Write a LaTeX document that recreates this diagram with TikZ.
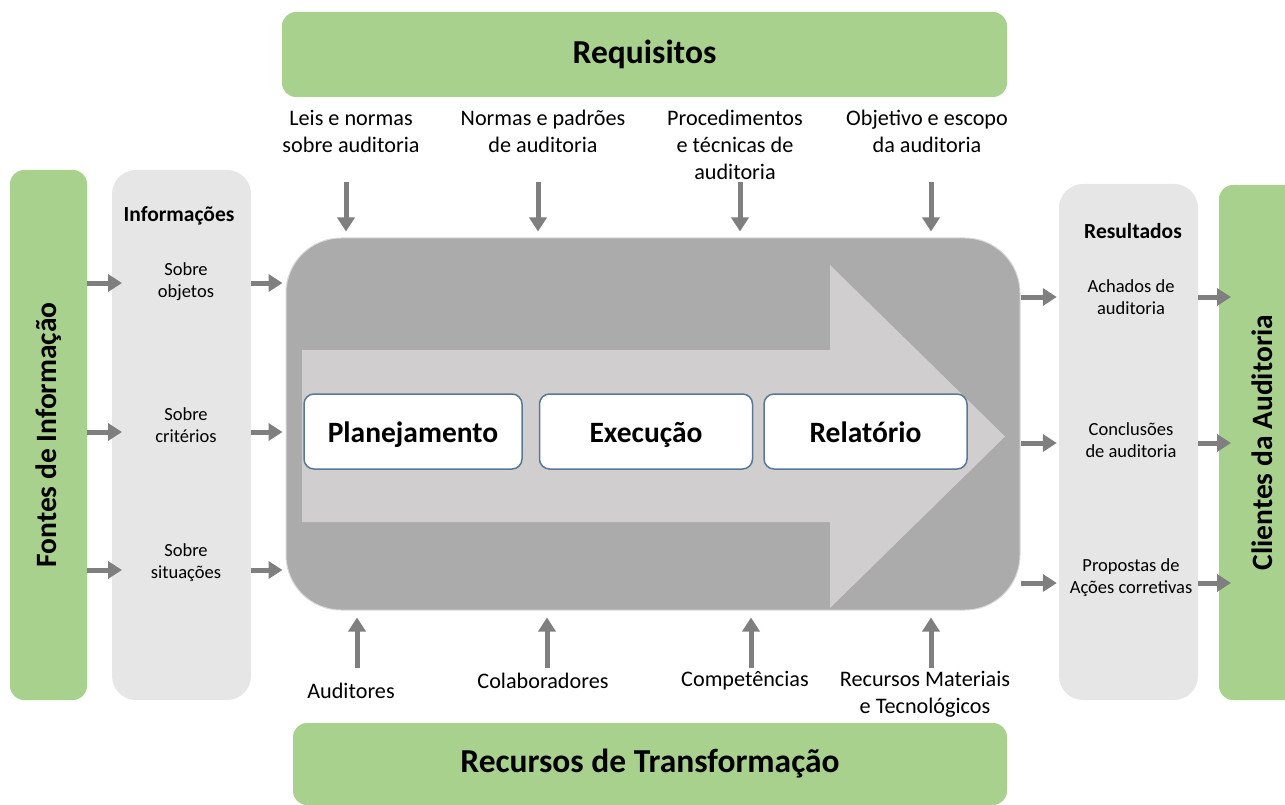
\documentclass[tikz,border=0pt]{standalone}
\usepackage{fontspec}
\setmainfont{Carlito}
\usetikzlibrary{arrows.meta,positioning}

\definecolor{verde}{HTML}{A9D18E}
\definecolor{cinzaclaro}{HTML}{E7E6E6}
\definecolor{cinza}{HTML}{ABABAB}
\definecolor{seta}{HTML}{D0CECE}
\definecolor{flecha}{HTML}{7F7F7F}
\definecolor{azul}{HTML}{5A7896}

\tikzset{
	faixa/.style={fill=verde, rounded corners=14pt, inner sep=0pt, font=\fontsize{33.5}{38}\selectfont\bfseries},
	lateral/.style={faixa, rotate=90, font=\fontsize{29.5}{34}\selectfont\bfseries},
	coluna/.style={fill=cinzaclaro, rounded corners=24pt, minimum width=139pt},
	etapa/.style={draw=azul, line width=1.5pt, fill=white, rounded corners=10pt, minimum height=75pt, text height=24pt, text depth=2pt, font=\fontsize{29.5}{34}\selectfont\bfseries},
	rotulo/.style={align=center, font=\fontsize{22.2}{27}\selectfont},
	titulo/.style={font=\fontsize{21.5}{25}\selectfont\bfseries},
	item/.style={align=center, font=\fontsize{18.5}{22}\selectfont},
	fluxo/.style={draw=flecha, line width=5pt, -{Triangle[length=14pt,width=17pt]}}
}

\begin{document}
\begin{tikzpicture}[x=1pt, y=-1pt]
	\path[use as bounding box, clip] (0,0) rectangle (1285,805);

	\node[faixa, minimum width=725pt, minimum height=85pt] (req) at (644.5,54.5) {Requisitos};
	\node[faixa, minimum width=714pt, minimum height=82pt] (rec) at (650,764) {Recursos de Transformação};
	\node[lateral, minimum width=530pt, minimum height=77pt] (fontes) at (48.5,435) {Fontes de Informação};
	\node[lateral, minimum width=515pt, minimum height=86pt] (clientes) at (1262,442.5) {Clientes da Auditoria};

	\node[coluna, minimum height=530pt] (info) at (181.5,435) {};
	\node[coluna, minimum height=516pt] (res) at (1128.5,442) {};
	\node[titulo] (infot) at (179,216) {Informações};
	\node[titulo] (rest) at (1133,231) {Resultados};
	\node[item] (i1) at (186,282) {Sobre\\objetos};
	\node[item] (i2) at (186,425) {Sobre\\critérios};
	\node[item] (i3) at (186,563) {Sobre\\situações};
	\node[item] (r1) at (1131,297) {Achados de\\auditoria};
	\node[item] (r2) at (1131,440) {Conclusões\\de auditoria};
	\node[item] (r3) at (1131,578) {Propostas de\\Ações corretivas};

	\node[fill=cinza, draw=white!85!black, line width=1pt, rounded corners=55pt, minimum width=734pt, minimum height=372pt] (proc) at (653,424) {};
	\fill[seta] (302,350) -- (830,350) -- (830,265) -- (1005,436.5) -- (830,608) -- (830,522) -- (302,522) -- cycle;

	\node[etapa, minimum width=218pt] (plan) at (413,431.5) {Planejamento};
	\node[etapa, minimum width=213pt, right=16pt of plan] (exec) {Execução};
	\node[etapa, minimum width=203pt, right=10pt of exec] (rel) {Relatório};

	\node[rotulo] (t1) at (351,131) {Leis e normas\\sobre auditoria};
	\node[rotulo] (t2) at (543,131) {Normas e padrões\\de auditoria};
	\node[rotulo] (t3) at (735,145) {Procedimentos\\e técnicas de\\auditoria};
	\node[rotulo] (t4) at (927,131) {Objetivo e escopo\\da auditoria};
	\node[rotulo] (b1) at (351,691) {Auditores};
	\node[rotulo] (b2) at (543,681) {Colaboradores};
	\node[rotulo] (b3) at (745,681) {Competências};
	\node[rotulo] (b4) at (925,694) {Recursos Materiais\\e Tecnológicos};

	\coordinate (ta1) at (346,182); \coordinate (ta2) at (538,182);
	\coordinate (ta3) at (740,182); \coordinate (ta4) at (931,182);
	\coordinate (ba1) at (357,668); \coordinate (ba2) at (547,668);
	\coordinate (ba3) at (751,668); \coordinate (ba4) at (931,668);
	\foreach \n in {1,...,4} {
		\draw[fluxo, shorten >=6pt] (ta\n) -- (ta\n |- proc.north);
		\draw[fluxo, shorten >=7pt] (ba\n) -- (ba\n |- proc.south);
	}

	\coordinate (e1) at (87,283); \coordinate (e2) at (87,432); \coordinate (e3) at (87,570);
	\coordinate (s1) at (1198,297); \coordinate (s2) at (1198,443); \coordinate (s3) at (1198,583);
	\foreach \n in {1,2,3} {
		\draw[fluxo] (e\n) -- ++(35,0);
		\draw[fluxo, shorten >=3pt] (info.east |- e\n) -- (proc.west |- e\n);
		\draw[fluxo, shorten >=2pt] (proc.east |- s\n) -- (res.west |- s\n);
		\draw[fluxo] (s\n) -- ++(33,0);
	}
\end{tikzpicture}
\end{document}
